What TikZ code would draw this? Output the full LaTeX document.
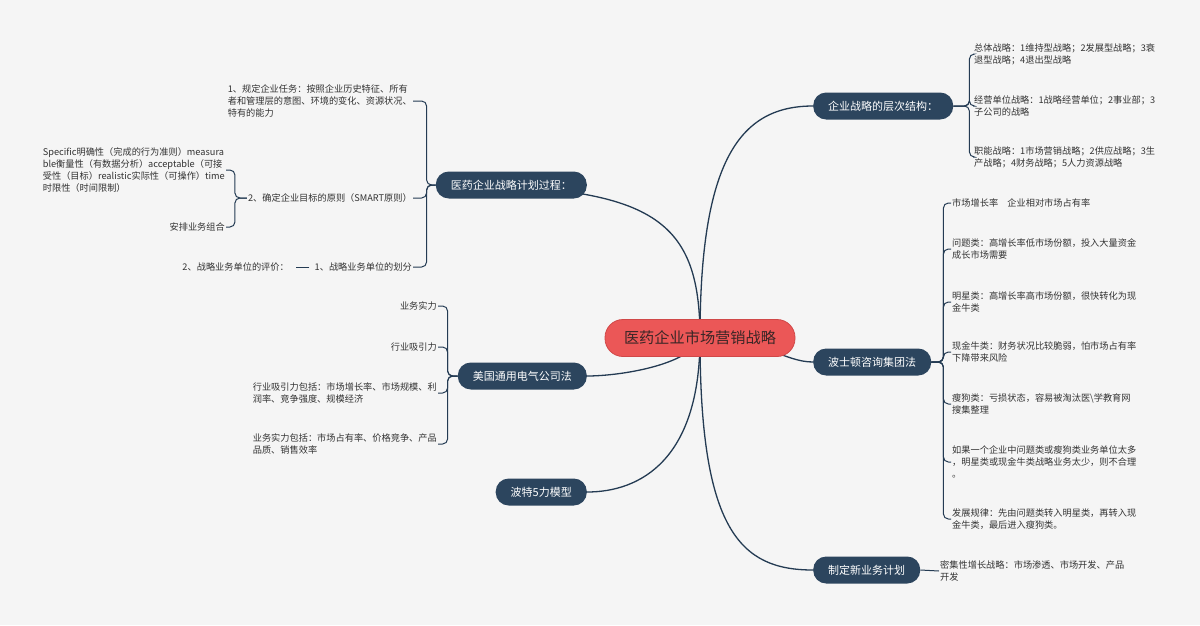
\documentclass[tikz,border=0pt]{standalone}
\usepackage{fontspec}
\setmainfont{Noto Sans CJK SC}
\usetikzlibrary{positioning}
\pgfdeclarelayer{bg}
\pgfsetlayers{bg,main}
\definecolor{bgcol}{HTML}{F5F5F5}
\definecolor{linecol}{HTML}{243B53}
\definecolor{topiccol}{HTML}{2C455E}
\definecolor{rootcol}{HTML}{EB5757}
\definecolor{rootline}{HTML}{D04848}
\definecolor{roottext}{HTML}{3A2626}
\definecolor{leafcol}{HTML}{333333}
\tikzset{
  root/.style={fill=rootcol, draw=rootline, line width=0.8pt, rounded corners=18pt,
    minimum height=37pt, inner xsep=19pt, inner ysep=0pt, text=roottext,
    font=\fontsize{15.2}{18}\selectfont},
  topic/.style={fill=topiccol, rounded corners=13pt, minimum height=27pt,
    inner xsep=15pt, inner ysep=0pt, text=white, font=\fontsize{11}{13}\selectfont},
  leaf/.style={align=left, inner xsep=1pt, inner ysep=0pt, text=leafcol,
    font=\fontsize{9.2}{12}\selectfont},
  link/.style={draw=linecol, line width=1.3pt},
  twig/.style={draw=linecol, line width=1pt, rounded corners=5pt},
}

\begin{document}
\begin{tikzpicture}[x=1pt, y=-1pt]
  \begin{pgfonlayer}{bg}
    \fill[bgcol] (0,0) rectangle (1200,625);
  \end{pgfonlayer}
  \useasboundingbox (0,0) rectangle (1200,625);

  % centre and main topics
  \node[root] (root) at (700,338) {医药企业市场营销战略};
  \node[topic, anchor=west] (t1) at (813,106) {企业战略的层次结构：};
  \node[topic, anchor=west] (t2) at (813,362) {波士顿咨询集团法};
  \node[topic, anchor=west] (t3) at (813,570) {制定新业务计划};
  \node[topic, anchor=east] (t4) at (587,185) {医药企业战略计划过程：};
  \node[topic, anchor=east] (t5) at (587,376) {美国通用电气公司法};
  \node[topic, anchor=east] (t6) at (587,492) {波特5力模型};

  \begin{pgfonlayer}{bg}
    \draw[link] (root.center) .. controls (700,160) and (740,106) .. (t1.west);
    \draw[link] (root.center) .. controls (765,340) and (785,362) .. (t2.west);
    \draw[link] (root.center) .. controls (700,530) and (740,570) .. (t3.west);
    \draw[link] (root.center) .. controls (700,215) and (650,185) .. (t4.west);
    \draw[link] (root.center) .. controls (690,365) and (620,376) .. (t5.east);
    \draw[link] (root.center) .. controls (700,460) and (640,492) .. (t6.east);
  \end{pgfonlayer}

  % right: levels of strategy
  \node[leaf, anchor=west] (r1a) at (973,54) {总体战略：1维持型战略；2发展型战略；3衰\\退型战略；4退出型战略};
  \node[leaf, anchor=west] (r1b) at (973,106) {经营单位战略：1战略经营单位；2事业部；3\\子公司的战略};
  \node[leaf, anchor=west] (r1c) at (973,157) {职能战略：1市场营销战略；2供应战略；3生\\产战略；4财务战略；5人力资源战略};
  \foreach \n in {r1a,r1b,r1c}
    \draw[twig] (t1.east) -- ++(16,0) |- (\n.west);

  % right: BCG matrix
  \node[leaf, anchor=west] (r2a) at (951,203) {市场增长率　企业相对市场占有率};
  \node[leaf, anchor=west] (r2b) at (951,249) {问题类：高增长率低市场份额，投入大量资金\\成长市场需要};
  \node[leaf, anchor=west] (r2c) at (951,302) {明星类：高增长率高市场份额，很快转化为现\\金牛类};
  \node[leaf, anchor=west] (r2d) at (951,352) {现金牛类：财务状况比较脆弱，怕市场占有率\\下降带来风险};
  \node[leaf, anchor=west] (r2e) at (951,404) {瘦狗类：亏损状态，容易被淘汰医\textbackslash{}学教育网\\搜集整理};
  \node[leaf, anchor=west] (r2f) at (951,462) {如果一个企业中问题类或瘦狗类业务单位太多\\，明星类或现金牛类战略业务太少，则不合理\\。};
  \node[leaf, anchor=west] (r2g) at (951,519) {发展规律：先由问题类转入明星类，再转入现\\金牛类，最后进入瘦狗类。};
  \foreach \n in {r2a,r2b,r2c,r2d,r2e,r2f,r2g}
    \draw[twig] (t2.east) -- ++(12,0) |- (\n.west);

  % right: new business
  \node[leaf, anchor=west] (r3a) at (939,571) {密集性增长战略：市场渗透、市场开发、产品\\开发};
  \draw[twig] (t3.east) -- (r3a.west);

  % left: planning process
  \node[leaf, anchor=east] (l1a) at (413,101) {1、规定企业任务：按照企业历史特征、所有\\者和管理层的意图、环境的变化、资源状况、\\特有的能力};
  \node[leaf, anchor=east] (l1b) at (413,198) {2、确定企业目标的原则（SMART原则）};
  \node[leaf, anchor=east] (l1c) at (413,267) {1、战略业务单位的划分};
  \foreach \n in {l1a,l1b,l1c}
    \draw[twig] (t4.west) -- ++(-9,0) |- (\n.east);

  \node[leaf, anchor=east] (l1b1) at (226,170) {Specific明确性（完成的行为准则）measura\\ble衡量性（有数据分析）acceptable（可接\\受性（目标）realistic实际性（可操作）time\\时限性（时间限制）};
  \node[leaf, anchor=east] (l1b2) at (226,227) {安排业务组合};
  \foreach \n in {l1b1,l1b2}
    \draw[twig] (l1b.west) -- ++(-12,0) |- (\n.east);

  \node[leaf, anchor=east] (l1c1) at (290,267) {2、战略业务单位的评价：};
  \draw[twig, shorten <=4pt, shorten >=6pt] (l1c.west) -- (l1c1.east);

  % left: GE matrix
  \node[leaf, anchor=east] (l2a) at (438,306) {业务实力};
  \node[leaf, anchor=east] (l2b) at (438,347) {行业吸引力};
  \node[leaf, anchor=east] (l2c) at (438,393) {行业吸引力包括：市场增长率、市场规模、利\\润率、竞争强度、规模经济};
  \node[leaf, anchor=east] (l2d) at (438,444) {业务实力包括：市场占有率、价格竞争、产品\\品质、销售效率};
  \foreach \n in {l2a,l2b,l2c,l2d}
    \draw[twig] (t5.west) -- ++(-10,0) |- (\n.east);
\end{tikzpicture}
\end{document}
